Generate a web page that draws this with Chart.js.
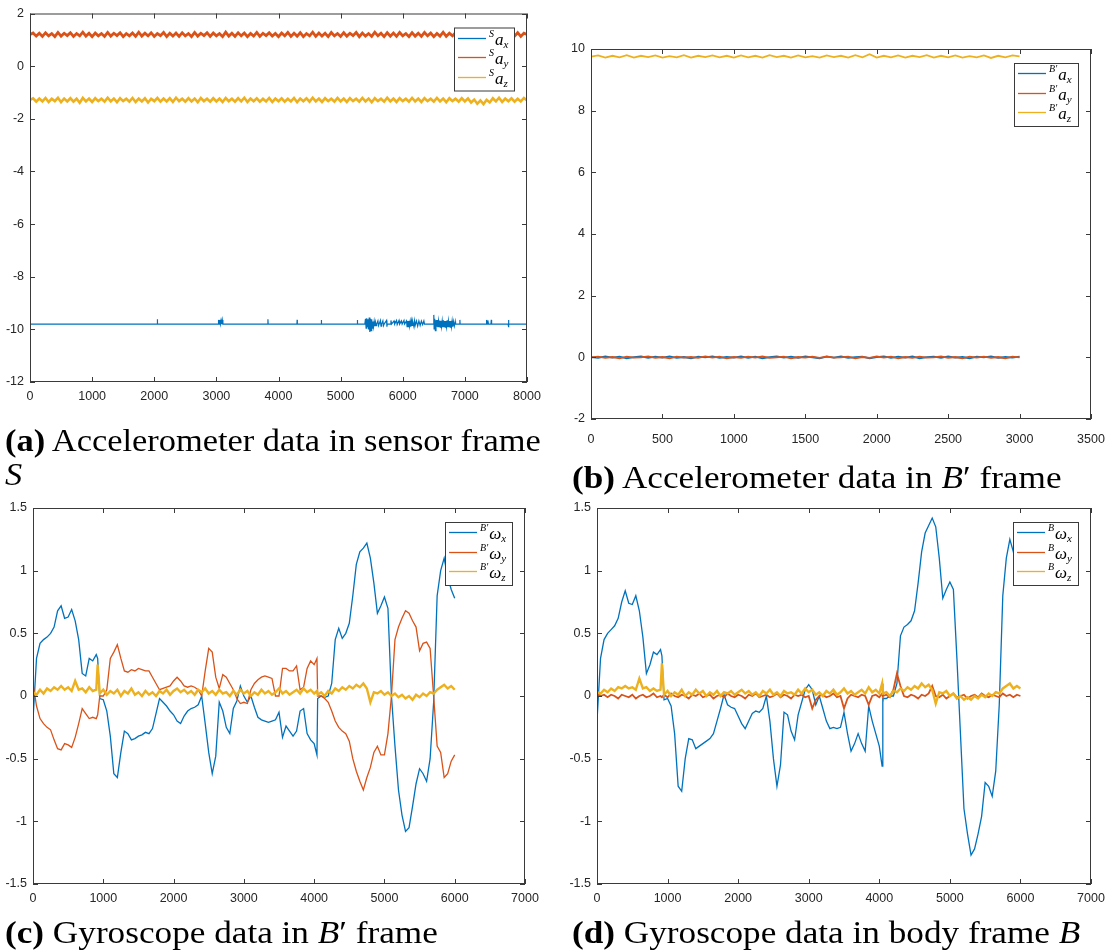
<!DOCTYPE html>
<html>
<head>
<meta charset="utf-8">
<script src="https://cdn.jsdelivr.net/npm/chart.js@4.4.0/dist/chart.umd.min.js"></script>
<style>
  body { margin: 0; background: #fff; width: 1112px; height: 952px; position: relative; overflow: hidden; }
  canvas { position: absolute; }
  .cap { position: absolute; font-family: "Liberation Serif", serif; font-size: 32px; line-height: 34px; color: #000;
         white-space: nowrap; transform: scaleX(1.1); transform-origin: 0 0; }
</style>
</head>
<body>
<canvas id="chartA" width="556" height="415" style="left:0;top:0"></canvas>
<canvas id="chartB" width="551" height="452" style="left:561px;top:0"></canvas>
<canvas id="chartC" width="556" height="447" style="left:0;top:470px"></canvas>
<canvas id="chartD" width="551" height="447" style="left:561px;top:470px"></canvas>

<div class="cap" style="left:5px;top:423px;transform:scaleX(1.075)"><b>(a)</b> Accelerometer data in sensor frame<br><i>S</i></div>
<div class="cap" style="left:572px;top:460px"><b>(b)</b> Accelerometer data in <i>B</i>′ frame</div>
<div class="cap" style="left:5px;top:915px"><b>(c)</b> Gyroscope data in <i>B</i>′ frame</div>
<div class="cap" style="left:572px;top:915px"><b>(d)</b> Gyroscope data in body frame <i>B</i></div>

<script>
// ---- (a) accelerometer, sensor frame S: 0..8000 samples ----
const stepA = 50;
const sAy = [1.2,1.26,1.14,1.25,1.13,1.27,1.15,1.24,1.12,1.28,1.14,1.25,1.16,1.27,1.13,1.24,1.15,1.29,1.14,1.25,
  1.12,1.26,1.15,1.24,1.13,1.28,1.14,1.25,1.16,1.27,1.12,1.24,1.15,1.26,1.13,1.29,1.14,1.25,1.15,1.27,
  1.13,1.24,1.16,1.28,1.12,1.25,1.14,1.26,1.13,1.27,1.15,1.24,1.12,1.28,1.14,1.25,1.16,1.27,1.13,1.26,
  1.15,1.24,1.12,1.29,1.14,1.25,1.13,1.27,1.15,1.26,1.12,1.24,1.14,1.28,1.13,1.25,1.16,1.27,1.14,1.24,
  1.12,1.26,1.15,1.28,1.13,1.25,1.14,1.27,1.12,1.24,1.15,1.29,1.13,1.26,1.14,1.25,1.12,1.28,1.15,1.24,
  1.13,1.27,1.14,1.25,1.16,1.28,1.12,1.26,1.14,1.24,1.13,1.29,1.15,1.25,1.12,1.27,1.14,1.26,1.13,1.28,
  1.15,1.24,1.12,1.27,1.14,1.25,1.13,1.28,1.15,1.26,1.12,1.24,1.14,1.29,1.13,1.25,1.15,1.27,1.12,1.26,
  1.14,1.25,1.13,1.28,1.15,1.24,1.12,1.27,1.14,1.26,1.13,1.25,1.15,1.28,1.12,1.24,1.14,1.27,1.13,1.25,
  1.2];
const sAz = [-1.28,-1.22,-1.35,-1.23,-1.34,-1.21,-1.36,-1.24,-1.33,-1.2,-1.37,-1.23,-1.34,-1.22,-1.35,-1.24,-1.39,-1.21,-1.34,-1.23,
  -1.36,-1.22,-1.33,-1.24,-1.35,-1.2,-1.34,-1.23,-1.37,-1.22,-1.33,-1.24,-1.35,-1.21,-1.36,-1.23,-1.34,-1.22,-1.38,-1.24,
  -1.33,-1.21,-1.35,-1.23,-1.34,-1.22,-1.36,-1.2,-1.33,-1.24,-1.35,-1.22,-1.34,-1.23,-1.37,-1.21,-1.33,-1.24,-1.35,-1.22,
  -1.34,-1.23,-1.36,-1.21,-1.33,-1.24,-1.35,-1.22,-1.34,-1.2,-1.36,-1.23,-1.33,-1.22,-1.35,-1.24,-1.34,-1.21,-1.36,-1.23,
  -1.33,-1.22,-1.35,-1.24,-1.34,-1.21,-1.37,-1.23,-1.33,-1.22,-1.35,-1.2,-1.34,-1.23,-1.36,-1.22,-1.33,-1.24,-1.35,-1.21,
  -1.34,-1.23,-1.36,-1.22,-1.33,-1.24,-1.35,-1.21,-1.34,-1.23,-1.37,-1.22,-1.33,-1.24,-1.35,-1.2,-1.34,-1.23,-1.36,-1.22,
  -1.33,-1.24,-1.35,-1.21,-1.34,-1.23,-1.36,-1.22,-1.33,-1.24,-1.35,-1.21,-1.34,-1.23,-1.37,-1.22,-1.33,-1.24,-1.35,-1.22,
  -1.34,-1.23,-1.38,-1.27,-1.43,-1.3,-1.44,-1.28,-1.38,-1.22,-1.34,-1.2,-1.36,-1.23,-1.33,-1.22,-1.35,-1.24,-1.34,-1.21,
  -1.3];
// sAx is flat at -9.8 with short bursts, kept as [sample, value]
const sAx = [[0,-9.8],[2047,-9.8],[2050,-9.62],[2053,-9.8],
  [3030,-9.8],[3035,-9.64],[3045,-9.8],[3055,-9.64],[3065,-9.8],[3075,-9.66],[3085,-9.8],[3095,-9.64],[3105,-9.8],
  [3827,-9.8],[3830,-9.62],[3833,-9.8],[4297,-9.8],[4300,-9.64],[4303,-9.8],[4687,-9.8],[4690,-9.64],[4693,-9.8],
  [5267,-9.8],[5270,-9.64],[5273,-9.8],
  [5390,-9.8],[5400,-9.6],[5410,-9.95],[5420,-9.58],[5430,-9.9],[5440,-9.62],[5450,-10.0],[5460,-9.55],[5470,-10.1],
  [5480,-9.6],[5490,-10.05],[5500,-9.62],[5510,-9.95],[5520,-9.7],[5530,-9.9],[5540,-9.7],[5550,-9.88],[5560,-9.72],
  [5570,-9.86],[5580,-9.8],[5600,-9.68],[5610,-9.86],[5620,-9.8],[5640,-9.66],[5650,-9.88],[5660,-9.8],[5680,-9.68],
  [5690,-9.86],[5700,-9.8],[5740,-9.66],[5745,-9.9],[5750,-9.8],
  [5800,-9.8],[5810,-9.66],[5820,-9.8],[5860,-9.68],[5870,-9.8],[5900,-9.66],[5910,-9.82],[5940,-9.66],[5950,-9.8],
  [5980,-9.68],[5990,-9.8],[6020,-9.66],[6030,-9.8],[6060,-9.68],[6070,-9.9],[6080,-9.68],[6090,-9.9],[6100,-9.68],
  [6110,-9.88],[6120,-9.7],[6130,-9.9],[6140,-9.68],[6150,-9.85],[6160,-9.7],[6180,-9.9],[6190,-9.68],[6200,-9.85],
  [6220,-9.68],[6240,-9.88],[6260,-9.68],[6280,-9.85],[6300,-9.68],[6320,-9.82],[6340,-9.68],[6350,-9.8],
  [6490,-9.8],[6500,-9.45],[6505,-9.98],[6515,-9.6],[6525,-10.05],[6535,-9.65],[6545,-9.9],[6555,-9.65],[6565,-9.92],
  [6575,-9.68],[6585,-9.9],[6595,-9.66],[6605,-9.92],[6615,-9.68],[6625,-9.9],[6635,-9.68],[6645,-9.92],[6655,-9.66],
  [6665,-9.9],[6675,-9.68],[6685,-9.92],[6695,-9.68],[6705,-9.9],[6715,-9.66],[6725,-9.92],[6735,-9.68],[6745,-9.9],
  [6755,-9.68],[6765,-9.92],[6775,-9.68],[6785,-9.9],[6795,-9.68],[6805,-9.9],[6815,-9.7],[6830,-9.88],[6845,-9.7],
  [6850,-9.8],[6917,-9.8],[6920,-9.64],[6923,-9.8],
  [7345,-9.8],[7350,-9.64],[7360,-9.8],[7370,-9.66],[7380,-9.8],[7420,-9.8],[7425,-9.64],[7430,-9.8],
  [7695,-9.8],[7700,-9.64],[7705,-9.92],[7710,-9.8],[8000,-9.8]];

// ---- (b) accelerometer, frame B': 0..3000 samples ----
const stepB = 50;
const bAx = [0.01,-0.02,0.03,-0.01,0.02,-0.03,0.01,0.03,-0.02,0.02,-0.01,0.03,-0.02,0.01,-0.03,0.02,0.0,0.03,-0.02,0.01,
  -0.01,0.03,-0.02,0.02,-0.03,0.01,0.03,-0.01,0.02,-0.02,0.03,0.0,-0.03,0.02,-0.01,0.03,-0.02,0.01,0.02,-0.03,
  0.01,0.03,-0.02,0.02,-0.01,0.03,-0.03,0.01,0.02,-0.02,0.03,-0.01,0.01,-0.03,0.02,0.0,0.03,-0.02,0.01,-0.01,0.02];
const bAy = [0.0,0.02,-0.02,0.01,-0.03,0.02,-0.01,0.0,0.03,-0.02,0.01,-0.03,0.02,-0.01,0.01,-0.02,0.03,-0.01,0.02,-0.03,
  0.01,-0.02,0.02,-0.01,0.03,-0.02,0.0,0.02,-0.03,0.01,-0.01,0.02,-0.02,0.03,-0.01,0.0,0.02,-0.03,0.01,-0.02,
  0.03,-0.01,0.02,-0.03,0.01,-0.02,0.02,-0.01,0.0,0.03,-0.02,0.01,-0.03,0.02,-0.01,0.02,-0.02,0.01,-0.03,0.02,0.0];
const bAz = [9.75,9.79,9.72,9.78,9.73,9.8,9.72,9.78,9.74,9.79,9.72,9.77,9.73,9.8,9.72,9.78,9.74,9.79,9.73,9.78,
  9.72,9.79,9.73,9.78,9.72,9.8,9.74,9.78,9.72,9.79,9.73,9.77,9.72,9.79,9.74,9.78,9.72,9.8,9.73,9.83,
  9.72,9.78,9.73,9.79,9.72,9.78,9.74,9.8,9.72,9.78,9.73,9.79,9.72,9.77,9.73,9.79,9.71,9.78,9.73,9.79,9.76];

// ---- (c), (d) gyroscope: shared sample positions ----
const gyroT = [0,50,100,150,200,250,300,350,400,450,500,550,600,650,700,750,800,850,900,920,
  950,1000,1050,1100,1150,1200,1250,1300,1350,1400,1450,1500,1550,1600,1650,1700,1750,1800,1850,1900,
  1950,2000,2050,2100,2150,2200,2250,2300,2350,2400,2450,2500,2550,2600,2650,2700,2750,2800,2850,2900,
  2950,3000,3050,3100,3150,3200,3250,3300,3350,3400,3450,3500,3550,3600,3650,3700,3750,3800,3850,3900,
  3950,4000,4040,4050,4100,4150,4200,4250,4300,4350,4400,4450,4500,4550,4600,4650,4700,4750,4800,4850,
  4900,4950,5000,5050,5100,5150,5200,5250,5300,5350,5400,5450,5500,5550,5600,5650,5700,5750,5800,5850,
  5900,5950,6000];
const cWx = [-0.19,0.3,0.42,0.45,0.47,0.5,0.55,0.68,0.72,0.62,0.63,0.69,0.6,0.45,0.18,0.16,0.3,0.28,0.33,0.3,
  -0.02,-0.03,-0.12,-0.32,-0.62,-0.65,-0.45,-0.28,-0.3,-0.35,-0.34,-0.32,-0.31,-0.29,-0.3,-0.26,-0.14,-0.02,-0.05,-0.08,
  -0.12,-0.15,-0.2,-0.22,-0.16,-0.12,-0.1,-0.09,-0.07,0.0,-0.22,-0.45,-0.62,-0.48,-0.05,-0.12,-0.25,-0.3,-0.1,-0.04,
  0.08,0.0,-0.05,0.0,-0.09,-0.17,-0.19,-0.2,-0.21,-0.2,-0.19,-0.13,-0.33,-0.24,-0.28,-0.32,-0.28,-0.12,-0.1,-0.3,
  -0.35,-0.38,-0.47,-0.02,0.0,-0.01,0.0,0.1,0.45,0.54,0.46,0.5,0.58,0.8,1.05,1.15,1.18,1.22,1.1,0.9,
  0.66,0.72,0.79,0.7,0.0,-0.4,-0.75,-0.95,-1.08,-1.05,-0.88,-0.7,-0.58,-0.62,-0.68,-0.5,-0.05,0.8,1.0,1.1,
  0.95,0.85,0.78];
const cWy = [0.1,-0.08,-0.18,-0.22,-0.25,-0.27,-0.35,-0.42,-0.43,-0.38,-0.39,-0.41,-0.33,-0.22,-0.1,-0.14,-0.18,-0.17,-0.18,-0.15,
  0.0,0.0,0.05,0.3,0.35,0.41,0.3,0.2,0.19,0.21,0.2,0.22,0.21,0.2,0.2,0.15,0.1,0.05,0.06,0.07,
  0.08,0.12,0.15,0.12,0.08,0.07,0.08,0.07,0.05,0.0,0.2,0.38,0.35,0.15,0.06,0.17,0.15,0.1,0.05,-0.02,
  -0.06,-0.05,-0.06,0.05,0.1,0.13,0.15,0.16,0.15,0.14,0.0,0.0,0.22,0.22,0.2,0.2,0.24,0.05,0.07,0.22,
  0.28,0.25,0.3,0.0,0.0,-0.02,-0.05,-0.12,-0.2,-0.25,-0.28,-0.3,-0.36,-0.5,-0.6,-0.68,-0.75,-0.65,-0.57,-0.45,
  -0.4,-0.47,-0.47,-0.3,0.0,0.45,0.55,0.62,0.68,0.66,0.6,0.55,0.36,0.42,0.43,0.38,0.0,-0.4,-0.45,-0.65,
  -0.62,-0.52,-0.47];
const cWz = [0.03,0.01,0.05,0.02,0.06,0.04,0.07,0.05,0.08,0.05,0.07,0.04,0.12,0.05,0.06,0.03,0.07,0.04,0.05,0.25,
  0.02,0.05,0.01,0.04,0.02,0.05,0.0,0.04,0.02,0.06,0.01,0.03,0.0,0.04,0.01,0.03,0.0,0.04,0.02,0.05,
  0.01,0.04,0.06,0.03,0.05,0.02,0.04,0.01,0.05,0.03,0.06,0.02,0.04,0.01,0.05,0.02,0.03,0.0,0.04,0.01,
  0.05,0.02,0.04,0.0,0.03,0.01,0.05,0.02,0.04,0.01,0.03,0.06,0.02,0.04,0.01,0.03,0.05,0.02,0.06,0.03,
  0.05,0.02,0.04,0.01,0.03,0.0,0.04,0.02,0.06,0.04,0.07,0.05,0.08,0.06,0.09,0.07,0.1,0.06,-0.05,0.03,
  0.02,0.04,0.01,0.03,0.0,0.02,-0.01,0.01,-0.02,0.0,-0.03,0.01,-0.01,0.02,0.0,0.03,0.02,0.05,0.07,0.09,
  0.06,0.08,0.05];
const dWx = [-0.2,0.3,0.45,0.5,0.53,0.56,0.62,0.75,0.84,0.74,0.73,0.8,0.68,0.47,0.18,0.25,0.35,0.33,0.37,0.32,
  -0.03,-0.02,-0.08,-0.3,-0.72,-0.76,-0.5,-0.34,-0.35,-0.42,-0.4,-0.38,-0.36,-0.34,-0.3,-0.2,-0.1,0.01,-0.07,-0.09,
  -0.1,-0.16,-0.22,-0.26,-0.2,-0.14,-0.12,-0.13,-0.1,0.0,-0.2,-0.5,-0.72,-0.55,-0.13,-0.15,-0.28,-0.35,-0.15,-0.05,
  0.05,0.09,0.05,-0.07,0.0,-0.1,-0.2,-0.26,-0.25,-0.26,-0.25,-0.13,-0.3,-0.44,-0.38,-0.3,-0.38,-0.44,-0.08,-0.2,
  -0.3,-0.4,-0.56,-0.02,-0.02,0.0,0.0,0.1,0.48,0.55,0.57,0.6,0.68,0.9,1.15,1.3,1.36,1.42,1.35,1.1,
  0.78,0.85,0.91,0.85,0.3,-0.3,-0.9,-1.1,-1.27,-1.22,-1.1,-0.96,-0.69,-0.72,-0.8,-0.6,-0.07,0.8,1.1,1.25,
  1.15,1.0,0.9];
const dWy = [0.02,0.0,0.01,-0.01,0.01,0.0,-0.02,0.01,0.0,-0.01,0.01,-0.02,0.0,0.01,-0.01,0.0,0.02,-0.01,0.0,-0.01,
  0.01,-0.01,0.02,0.0,-0.01,0.01,0.0,-0.02,0.01,0.0,0.02,-0.01,0.0,0.01,-0.02,0.0,0.01,-0.01,0.02,0.0,
  -0.01,0.01,0.0,-0.02,0.01,0.0,0.02,-0.01,0.0,0.01,-0.01,0.0,0.02,-0.01,0.01,0.0,-0.02,0.01,0.0,0.01,
  -0.01,0.0,-0.1,-0.03,0.0,0.01,-0.01,0.0,0.02,-0.01,0.0,-0.1,-0.02,0.01,0.0,-0.01,0.01,0.0,-0.07,0.0,
  0.01,-0.01,0.02,0.0,0.01,-0.01,0.05,0.18,0.08,0.0,-0.01,0.01,0.0,-0.02,0.01,0.0,0.02,0.08,0.0,-0.01,
  0.01,-0.02,0.0,0.02,-0.01,0.0,0.01,-0.02,0.0,0.01,-0.01,0.02,0.0,-0.01,0.01,0.0,-0.01,0.02,0.0,0.01,
  -0.01,0.01,0.0];
const dWz = [0.03,0.02,0.05,0.03,0.06,0.04,0.07,0.06,0.08,0.06,0.07,0.05,0.14,0.06,0.07,0.04,0.06,0.04,0.05,0.26,
  0.01,0.04,0.0,0.03,0.01,0.05,0.0,0.03,0.01,0.05,0.02,0.04,0.0,0.03,0.01,0.04,0.0,0.03,0.02,0.04,
  0.01,0.03,0.05,0.02,0.04,0.01,0.03,0.0,0.04,0.02,0.05,0.01,0.03,0.0,0.04,0.02,0.03,0.01,0.05,0.02,
  0.06,0.03,0.05,0.01,0.03,0.0,0.04,0.02,0.05,0.01,0.03,0.06,0.02,0.04,0.01,0.03,0.05,0.02,0.07,0.03,
  0.05,0.02,0.1,0.02,0.03,0.0,0.04,0.03,0.06,0.04,0.07,0.05,0.08,0.06,0.1,0.07,0.09,0.05,-0.06,0.03,
  0.02,0.04,0.0,0.02,-0.02,0.0,-0.03,-0.01,-0.03,0.0,-0.02,0.01,-0.01,0.02,0.0,0.03,0.02,0.06,0.08,0.1,
  0.06,0.08,0.06];

// legend label parts: [superscript, symbol]
const legendA = ['S', 'a'];
const legendB = ['B\u2032', 'a'];
const legendC = ['B\u2032', '\u03c9'];
const legendD = ['B', '\u03c9'];
const axisNames = ['x', 'y', 'z'];

const BLUE = '#0072bd', ORANGE = '#d95319', YELLOW = '#edb120';
const AXIS = '#3a3a3a';

const stepped = (vals, step) => vals.map((v, i) => ({ x: i * step, y: v }));
const paired = pts => pts.map(([x, y]) => ({ x, y }));
const onTimes = (t, vals) => vals.map((v, i) => ({ x: t[i], y: v }));

function series(data, color, width, order, label, sub) {
    return {
        data, borderColor: color, backgroundColor: color, borderWidth: width,
        pointRadius: 0, tension: 0, fill: false, order,
        sup: label[0], base: label[1], sub
    };
}

// MATLAB-like box with inward ticks on all four sides
const boxAxes = {
    id: 'boxAxes',
    afterDatasetsDraw(chart) {
        const { ctx, chartArea: a, scales } = chart;
        ctx.save();
        ctx.strokeStyle = AXIS;
        ctx.lineWidth = 1;
        ctx.strokeRect(a.left + 0.5, a.top + 0.5, a.width - 1, a.height - 1);
        ctx.beginPath();
        scales.x.ticks.forEach(t => {
            const px = Math.round(scales.x.getPixelForValue(t.value)) + 0.5;
            ctx.moveTo(px, a.bottom); ctx.lineTo(px, a.bottom - 5);
            ctx.moveTo(px, a.top); ctx.lineTo(px, a.top + 5);
        });
        scales.y.ticks.forEach(t => {
            const py = Math.round(scales.y.getPixelForValue(t.value)) + 0.5;
            ctx.moveTo(a.left, py); ctx.lineTo(a.left + 5, py);
            ctx.moveTo(a.right, py); ctx.lineTo(a.right - 5, py);
        });
        ctx.stroke();
        ctx.restore();
    }
};

// legend with superscript frame and subscript axis, drawn in the top right corner
const mathLegend = {
    id: 'mathLegend',
    afterDraw(chart) {
        const { ctx, chartArea: a } = chart;
        const items = chart.data.datasets;
        const supFont = 'italic 10px "Liberation Serif"';
        const baseFont = 'italic 17px "Liberation Serif"';
        const subFont = 'italic 11px "Liberation Serif"';
        ctx.save();
        let textW = 0;
        items.forEach(it => {
            ctx.font = supFont; let w = ctx.measureText(it.sup).width + 1;
            ctx.font = baseFont; w += ctx.measureText(it.base).width;
            ctx.font = subFont; w += ctx.measureText(it.sub).width;
            textW = Math.max(textW, w);
        });
        const rowH = 19.5;
        const w = Math.round(36 + textW + 5);
        const h = Math.round(rowH * items.length + 4);
        const x0 = a.right - 13 - w, y0 = a.top + 14;
        ctx.fillStyle = '#fff';
        ctx.fillRect(x0, y0, w, h);
        ctx.strokeStyle = AXIS;
        ctx.lineWidth = 1;
        ctx.strokeRect(x0 + 0.5, y0 + 0.5, w, h);
        items.forEach((it, i) => {
            const ly = Math.round(y0 + 10 + i * rowH) + 0.5;
            ctx.strokeStyle = it.borderColor;
            ctx.lineWidth = 1.3;
            ctx.beginPath(); ctx.moveTo(x0 + 4, ly); ctx.lineTo(x0 + 32, ly); ctx.stroke();
            ctx.fillStyle = '#000';
            ctx.textBaseline = 'alphabetic';
            let tx = x0 + 35;
            ctx.font = supFont; ctx.fillText(it.sup, tx, ly - 2); tx += ctx.measureText(it.sup).width + 1;
            ctx.font = baseFont; ctx.fillText(it.base, tx, ly + 6); tx += ctx.measureText(it.base).width;
            ctx.font = subFont; ctx.fillText(it.sub, tx, ly + 9);
        });
        ctx.restore();
    }
};

function makeChart(id, datasets, xr, yr, axisW, pad, xPad) {
    const tickFont = { family: '"Liberation Sans", Arial, sans-serif', size: 12.5 };
    return new Chart(document.getElementById(id), {
        type: 'line',
        data: { datasets },
        options: {
            responsive: false,
            animation: false,
            events: [],
            layout: { padding: pad },
            plugins: { legend: { display: false }, tooltip: { enabled: false } },
            scales: {
                x: {
                    type: 'linear', min: xr[0], max: xr[1],
                    grid: { display: false, drawTicks: false }, border: { display: false },
                    ticks: { stepSize: xr[2], font: tickFont, color: '#262626', padding: xPad, maxRotation: 0,
                        callback: v => String(v) },
                    // the layout padding already leaves room for the end labels
                    afterFit: s => { s.height = 33; s.paddingLeft = 0; s.paddingRight = 0; }
                },
                y: {
                    type: 'linear', min: yr[0], max: yr[1],
                    grid: { display: false, drawTicks: false }, border: { display: false },
                    ticks: { stepSize: yr[2], font: tickFont, color: '#262626', padding: 6,
                        callback: v => String(Math.round(v * 100) / 100) },
                    afterFit: s => { s.width = axisW; }
                }
            }
        },
        plugins: [boxAxes, mathLegend]
    });
}

makeChart('chartA', [
    series(paired(sAx), BLUE, 1.2, 3, legendA, axisNames[0]),
    series(stepped(sAy, stepA), ORANGE, 2.8, 2, legendA, axisNames[1]),
    series(stepped(sAz, stepA), YELLOW, 2.6, 1, legendA, axisNames[2])
], [0, 8000, 1000], [-12, 2, 2], 30, { top: 11, right: 29, left: 0, bottom: 0 }, 7);

makeChart('chartB', [
    series(stepped(bAx, stepB), BLUE, 1.8, 3, legendB, axisNames[0]),
    series(stepped(bAy, stepB), ORANGE, 1.8, 2, legendB, axisNames[1]),
    series(stepped(bAz, stepB), YELLOW, 1.8, 1, legendB, axisNames[2])
], [0, 3500, 500], [-2, 10, 2], 30, { top: 49, right: 21, left: 0, bottom: 0 }, 13);

makeChart('chartC', [
    series(onTimes(gyroT, cWx), BLUE, 1.3, 3, legendC, axisNames[0]),
    series(onTimes(gyroT, cWy), ORANGE, 1.3, 2, legendC, axisNames[1]),
    series(onTimes(gyroT, cWz), YELLOW, 2.4, 1, legendC, axisNames[2])
], [0, 7000, 1000], [-1.5, 1.5, 0.5], 33, { top: 38, right: 31, left: 0, bottom: 0 }, 7);

makeChart('chartD', [
    series(onTimes(gyroT, dWx), BLUE, 1.3, 3, legendD, axisNames[0]),
    series(onTimes(gyroT, dWy), ORANGE, 1.8, 2, legendD, axisNames[1]),
    series(onTimes(gyroT, dWz), YELLOW, 2.4, 1, legendD, axisNames[2])
], [0, 7000, 1000], [-1.5, 1.5, 0.5], 36, { top: 38, right: 21, left: 0, bottom: 0 }, 7);
</script>
</body>
</html>
